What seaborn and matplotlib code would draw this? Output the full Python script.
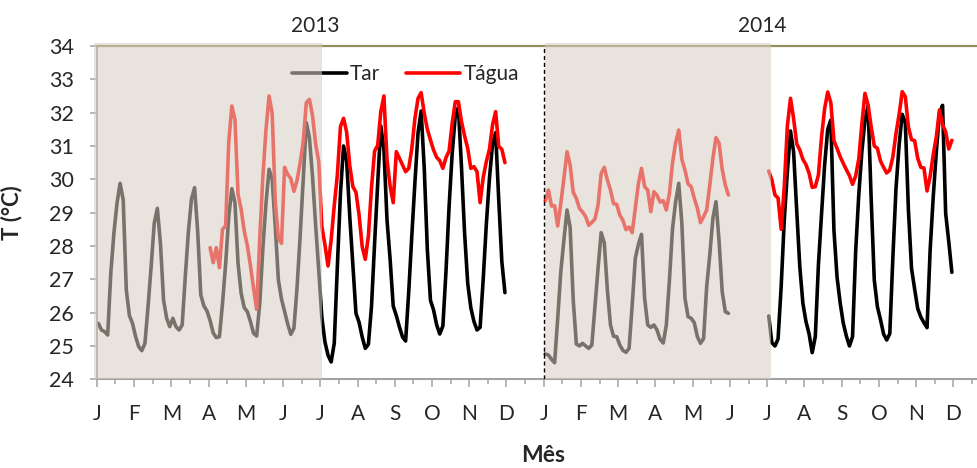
import matplotlib
matplotlib.use("Agg")
import matplotlib.pyplot as plt
from matplotlib.patches import Rectangle
from matplotlib.lines import Line2D
from matplotlib.ticker import FixedLocator
import pandas as pd
import seaborn as sns

# Month initials along the two-year axis (each tick marks the start of a month)
MONTH_LABELS = ["J", "F", "M", "A", "M", "J", "J", "A", "S", "O", "N", "D"] * 2
YEAR_LABELS = ["2013", "2014"]
SERIES = ["Tar", "Tágua"]

# Hours of the day sampled in each monthly mean diel cycle
HOURS = [1, 3, 5, 7, 9, 11, 13, 15, 17, 19, 21, 23]

# Air temperature (°C): mean diel cycle per month
# 2013, Jan..Nov
TAR_2013 = [
    [25.68, 25.48, 25.43, 25.33, 27.18, 28.38, 29.28, 29.88, 29.38, 26.68, 25.91, 25.68],
    [25.28, 24.98, 24.86, 25.08, 26.18, 27.38, 28.68, 29.13, 28.08, 26.38, 25.83, 25.58],
    [25.83, 25.58, 25.48, 25.63, 27.08, 28.42, 29.41, 29.75, 28.43, 26.53, 26.20, 26.05],
    [25.76, 25.39, 25.25, 25.28, 26.28, 27.45, 28.88, 29.72, 29.30, 27.48, 26.58, 26.15],
    [26.03, 25.73, 25.38, 25.30, 26.28, 27.93, 29.28, 30.30, 30.00, 28.58, 26.98, 26.41],
    [26.03, 25.66, 25.35, 25.53, 26.73, 28.28, 29.98, 31.70, 31.25, 30.08, 28.63, 27.28],
    [25.86, 25.12, 24.72, 24.52, 25.08, 27.38, 29.58, 31.00, 30.55, 28.88, 27.43, 25.98],
    [25.71, 25.27, 24.93, 25.05, 26.18, 28.08, 29.88, 31.60, 30.90, 28.78, 27.60, 26.20],
    [25.91, 25.57, 25.27, 25.15, 26.63, 28.32, 29.92, 31.40, 32.05, 30.33, 27.88, 26.37],
    [26.08, 25.63, 25.36, 25.60, 27.23, 29.18, 30.78, 31.90, 32.15, 30.36, 28.38, 26.88],
    [26.15, 25.74, 25.48, 25.56, 27.01, 28.65, 30.02, 31.05, 31.40, 29.38, 27.53, 26.60],
]
# 2014, Jan..May
TAR_2014_A = [
    [24.76, 24.73, 24.60, 24.50, 25.83, 27.23, 28.18, 29.08, 28.56, 26.38, 25.06, 25.00],
    [25.08, 25.00, 24.93, 25.03, 26.18, 27.33, 28.40, 28.10, 26.68, 25.63, 25.29, 25.28],
    [25.03, 24.87, 24.81, 24.93, 26.23, 27.63, 28.05, 28.35, 26.43, 25.63, 25.56, 25.63],
    [25.48, 25.20, 25.09, 25.63, 26.98, 28.53, 29.33, 29.88, 28.68, 26.43, 25.88, 25.83],
    [25.70, 25.28, 25.08, 25.22, 26.78, 27.73, 28.83, 29.33, 28.13, 26.63, 26.03, 25.98],
]
# 2014, Jul..Nov
TAR_2014_B = [
    [25.90, 25.10, 25.00, 25.21, 26.78, 28.78, 30.23, 31.45, 30.83, 29.08, 27.38, 26.28],
    [25.73, 25.36, 24.80, 25.28, 27.43, 28.95, 30.43, 31.50, 31.78, 28.48, 27.07, 26.30],
    [25.69, 25.30, 25.00, 25.28, 27.83, 29.53, 30.83, 31.78, 32.20, 29.41, 26.98, 26.18],
    [25.79, 25.36, 25.18, 25.37, 27.68, 29.73, 31.03, 31.95, 31.70, 29.08, 27.33, 26.71],
    [26.12, 25.87, 25.70, 25.55, 27.88, 29.48, 30.83, 31.98, 32.22, 28.98, 28.13, 27.21],
]

# Water temperature (°C): mean diel cycle per month
# 2013, Apr..Nov
AGUA_2013 = [
    [27.95, 27.50, 27.95, 27.35, 28.50, 28.60, 31.10, 32.20, 31.80, 29.55, 29.10, 28.45],
    [28.01, 27.41, 26.73, 26.10, 28.23, 30.08, 31.48, 32.50, 31.98, 29.33, 28.23, 28.08],
    [30.36, 30.15, 30.02, 29.64, 29.96, 30.48, 31.13, 32.30, 32.40, 31.91, 31.06, 30.53],
    [28.58, 28.04, 27.40, 28.18, 29.21, 30.13, 31.58, 31.83, 31.41, 30.41, 29.78, 29.61],
    [28.93, 27.98, 27.60, 28.30, 29.75, 30.85, 31.02, 32.03, 32.50, 30.58, 29.80, 29.30],
    [30.83, 30.63, 30.43, 30.23, 30.33, 30.93, 31.83, 32.43, 32.60, 31.98, 31.50, 31.18],
    [30.88, 30.66, 30.56, 30.33, 30.65, 30.85, 31.68, 32.33, 32.33, 31.73, 31.30, 30.93],
    [30.33, 30.38, 30.23, 29.30, 30.06, 30.53, 30.90, 31.63, 32.03, 30.99, 30.90, 30.50],
]
# 2014, Jan..May
AGUA_2014_A = [
    [29.35, 29.68, 29.20, 29.21, 28.60, 29.28, 30.03, 30.83, 30.43, 29.61, 29.43, 29.13],
    [29.02, 28.88, 28.62, 28.71, 28.81, 29.23, 30.18, 30.36, 29.98, 29.68, 29.27, 29.25],
    [28.93, 28.77, 28.49, 28.57, 28.40, 29.13, 29.87, 30.33, 29.78, 29.68, 29.03, 29.63],
    [29.52, 29.32, 29.36, 29.08, 29.58, 30.50, 31.10, 31.48, 30.60, 30.28, 29.86, 29.78],
    [29.43, 29.13, 28.70, 28.88, 29.08, 29.83, 30.63, 31.25, 31.08, 30.30, 29.83, 29.53],
]
# 2014, Jul..Nov
AGUA_2014_B = [
    [30.25, 29.98, 29.53, 29.44, 28.50, 29.78, 31.60, 32.43, 31.83, 31.07, 30.88, 30.60],
    [30.44, 30.18, 29.76, 29.78, 30.13, 31.26, 32.12, 32.62, 32.30, 31.16, 30.93, 30.68],
    [30.48, 30.29, 30.11, 29.85, 30.10, 30.61, 31.66, 32.58, 32.23, 31.58, 31.00, 30.93],
    [30.55, 30.36, 30.19, 30.28, 30.68, 31.38, 31.94, 32.63, 32.48, 31.57, 31.19, 31.16],
    [30.63, 30.36, 30.34, 29.65, 30.09, 30.74, 31.28, 32.08, 31.64, 31.43, 30.91, 31.17],
]

# (profiles, index of first month on the axis, series name, segment id)
BLOCKS = [
    (TAR_2013, 0, "Tar", "tar13"),
    (TAR_2014_A, 12, "Tar", "tar14a"),
    (TAR_2014_B, 18, "Tar", "tar14b"),
    (AGUA_2013, 3, "Tágua", "agua13"),
    (AGUA_2014_A, 12, "Tágua", "agua14a"),
    (AGUA_2014_B, 18, "Tágua", "agua14b"),
]

rows = []
for profiles, first, serie, seg in BLOCKS:
    for i, prof in enumerate(profiles):
        for h, v in zip(HOURS, prof):
            rows.append({"t": first + i + h / 24.0, "temp": v, "serie": serie, "seg": seg})
df = pd.DataFrame(rows)

sns.set_style("white")
plt.rcParams["font.family"] = ["Lato", "DejaVu Sans"]
plt.rcParams["lines.solid_joinstyle"] = "round"

fig = plt.figure(figsize=(9.78, 4.68), dpi=100)
ax = fig.add_axes([0.099, 0.1895, 0.901, 0.7122])

palette = {"Tar": "#000000", "Tágua": "#ff0000"}
sns.lineplot(data=df, x="t", y="temp", hue="serie", units="seg", estimator=None,
             sort=False, palette=palette, linewidth=2.6, legend=False, ax=ax, zorder=2)

ax.set_xlim(0, 23.66)
ax.set_ylim(24, 34)

# Axis styling
ax.spines["right"].set_visible(False)
ax.spines["top"].set_color("#978c5c")
ax.spines["top"].set_linewidth(1.6)
ax.spines["left"].set_color("#8c8c8c")
ax.spines["left"].set_linewidth(1.2)
ax.spines["bottom"].set_color("#a3a3a3")
ax.spines["bottom"].set_linewidth(1.5)

ax.xaxis.set_major_locator(FixedLocator(list(range(24))))
ax.xaxis.set_minor_locator(FixedLocator([m + 0.5 for m in range(24)]))
ax.set_xticklabels(MONTH_LABELS)
ax.set_yticks(list(range(24, 35)))
ax.tick_params(axis="x", which="major", direction="out", length=5.5, width=1.1,
               color="#a3a3a3", pad=12, labelsize=15, bottom=True)
ax.tick_params(axis="x", which="minor", direction="out", length=3.6, width=1.1,
               color="#a3a3a3", bottom=True)
ax.tick_params(axis="y", direction="out", length=5, width=1.1, color="#a3a3a3",
               pad=11.5, labelsize=15.5, left=True)

ax.set_xlabel("")
ax.set_ylabel("T (°C)", fontsize=16, fontweight="bold")
ax.yaxis.set_label_coords(-0.084, 0.5)
fig.text(543 / 978, 6 / 468, "Mês", ha="center", va="baseline",
         fontsize=16.5, fontweight="bold")

# Year captions above the plot
ax.text(5.86, 34.6, YEAR_LABELS[0], ha="center", va="center", fontsize=15)
ax.text(17.88, 34.6, YEAR_LABELS[1], ha="center", va="center", fontsize=15)

# Legend
handles = [Line2D([], [], color=palette[s], lw=2.6) for s in SERIES]
leg = ax.legend(handles, SERIES, loc="center left", bbox_to_anchor=(0.222, 0.916),
                ncol=2, frameon=False, fontsize=15, handlelength=2.6,
                handletextpad=0.15, columnspacing=1.25, borderaxespad=0, borderpad=0)
leg.set_zorder(3)

# Translucent beige bands over the first half of each year
for x0, x1 in [(-0.067, 6.04), (12.03, 18.09)]:
    ax.add_patch(Rectangle((x0, 24), x1 - x0, 10.08, facecolor="#d6cec1",
                           edgecolor="none", alpha=0.56, zorder=4, clip_on=False))

# Year boundary
ax.axvline(12.0, color="black", lw=1.0, linestyle=(0, (3, 2)), zorder=5)

fig.savefig("out.png", dpi=100)
